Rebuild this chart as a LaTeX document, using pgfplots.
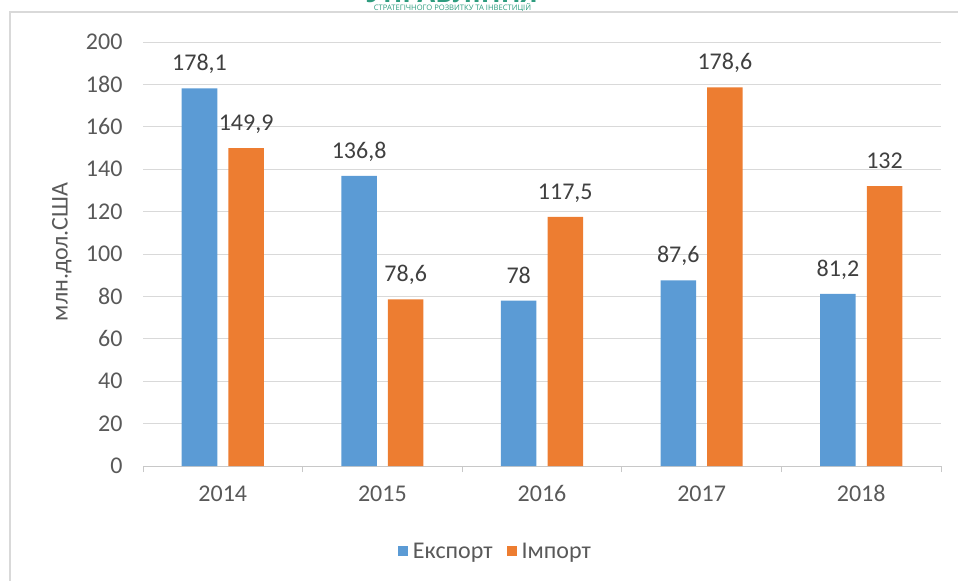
\documentclass[border=0pt]{standalone}
\usepackage{fontspec}
\setmainfont{Carlito}
\newfontfamily\headfont{Open Sans}
\usepackage{pgfplots}
\pgfplotsset{compat=1.18}
\definecolor{expc}{HTML}{5B9BD5}
\definecolor{impc}{HTML}{ED7D31}
\definecolor{gridc}{HTML}{D9D9D9}
\definecolor{axc}{HTML}{C8C8C8}
\definecolor{tickc}{HTML}{595959}
\definecolor{labc}{HTML}{404040}
\definecolor{headc}{HTML}{2F9C7F}
\begin{document}
\begin{tikzpicture}
\useasboundingbox (0,0) rectangle (958bp,-581bp);
\begin{scope}
\clip (0,0) rectangle (958bp,-581bp);
\node[anchor=base, inner sep=0, text=headc, font=\headfont\bfseries\fontsize{26bp}{28bp}\selectfont] at (452bp,-2bp) {УПРАВЛІННЯ};
\end{scope}
\node[anchor=center, inner sep=0, text=headc, font=\headfont\fontsize{7.6bp}{8bp}\selectfont] at (452.5bp,-7.5bp) {СТРАТЕГІЧНОГО РОЗВИТКУ ТА ІНВЕСТИЦІЙ};
\draw[line width=2bp, draw=gridc] (9.5bp,-581bp) -- (9.5bp,-12bp) -- (958bp,-12bp);
\begin{axis}[
  at={(143bp,-466bp)}, anchor=south west,
  scale only axis, width=798bp, height=424bp,
  xmin=-0.5, xmax=4.5, ymin=0, ymax=200,
  ybar, bar width=35.5bp,
  axis x line*=bottom, axis y line*=left,
  x axis line style={draw=axc, line width=1bp, -},
  y axis line style={draw=none},
  ytick={0,20,...,200},
  ymajorgrids, grid style={draw=gridc, line width=1bp},
  xtick={0,1,2,3,4},
  xticklabels={2014,2015,2016,2017,2018},
  minor xtick={-0.5,0.5,1.5,2.5,3.5,4.5},
  major tick length=0pt, minor tick length=6bp,
  tick align=outside,
  major tick style={draw=none},
  minor tick style={draw=axc, line width=1bp},
  ticklabel style={font=\fontsize{24bp}{27bp}\selectfont, text=tickc},
  yticklabel style={xshift=-17bp},
  xticklabel style={yshift=-16bp},
  /pgf/number format/assume math mode=true,
  /pgf/number format/use comma,
  /pgf/number format/fixed,
  /pgf/number format/precision=1,
  nodes near coords,
  every node near coord/.append style={anchor=base, yshift=17.5bp, text=labc, font=\fontsize{24bp}{27bp}\selectfont},
  clip=false,
  ylabel={млн.дол.США},
  ylabel style={font=\fontsize{24bp}{27bp}\selectfont, text=tickc, at={(axis description cs:-0.1017,0.505)}, anchor=center},
  legend columns=2,
  legend style={at={(0.4417,-0.201)}, anchor=center, draw=none, fill=none,
    font=\fontsize{24bp}{27bp}\selectfont, text=tickc,
    /tikz/every odd column/.append style={column sep=3bp},
    /tikz/every even column/.append style={column sep=12bp}},
  legend image code/.code={\fill[#1, draw=none] (0bp,-5bp) rectangle (10bp,5bp);},
]
\addplot[fill=expc, draw=none, bar shift=-23.3bp] coordinates {(0,178.1) (1,136.8) (2,78) (3,87.6) (4,81.2)};
\addplot[fill=impc, draw=none, bar shift=23.3bp] coordinates {(0,149.9) (1,78.6) (2,117.5) (3,178.6) (4,132)};
\legend{Експорт, Імпорт}
\end{axis}
\end{tikzpicture}
\end{document}
